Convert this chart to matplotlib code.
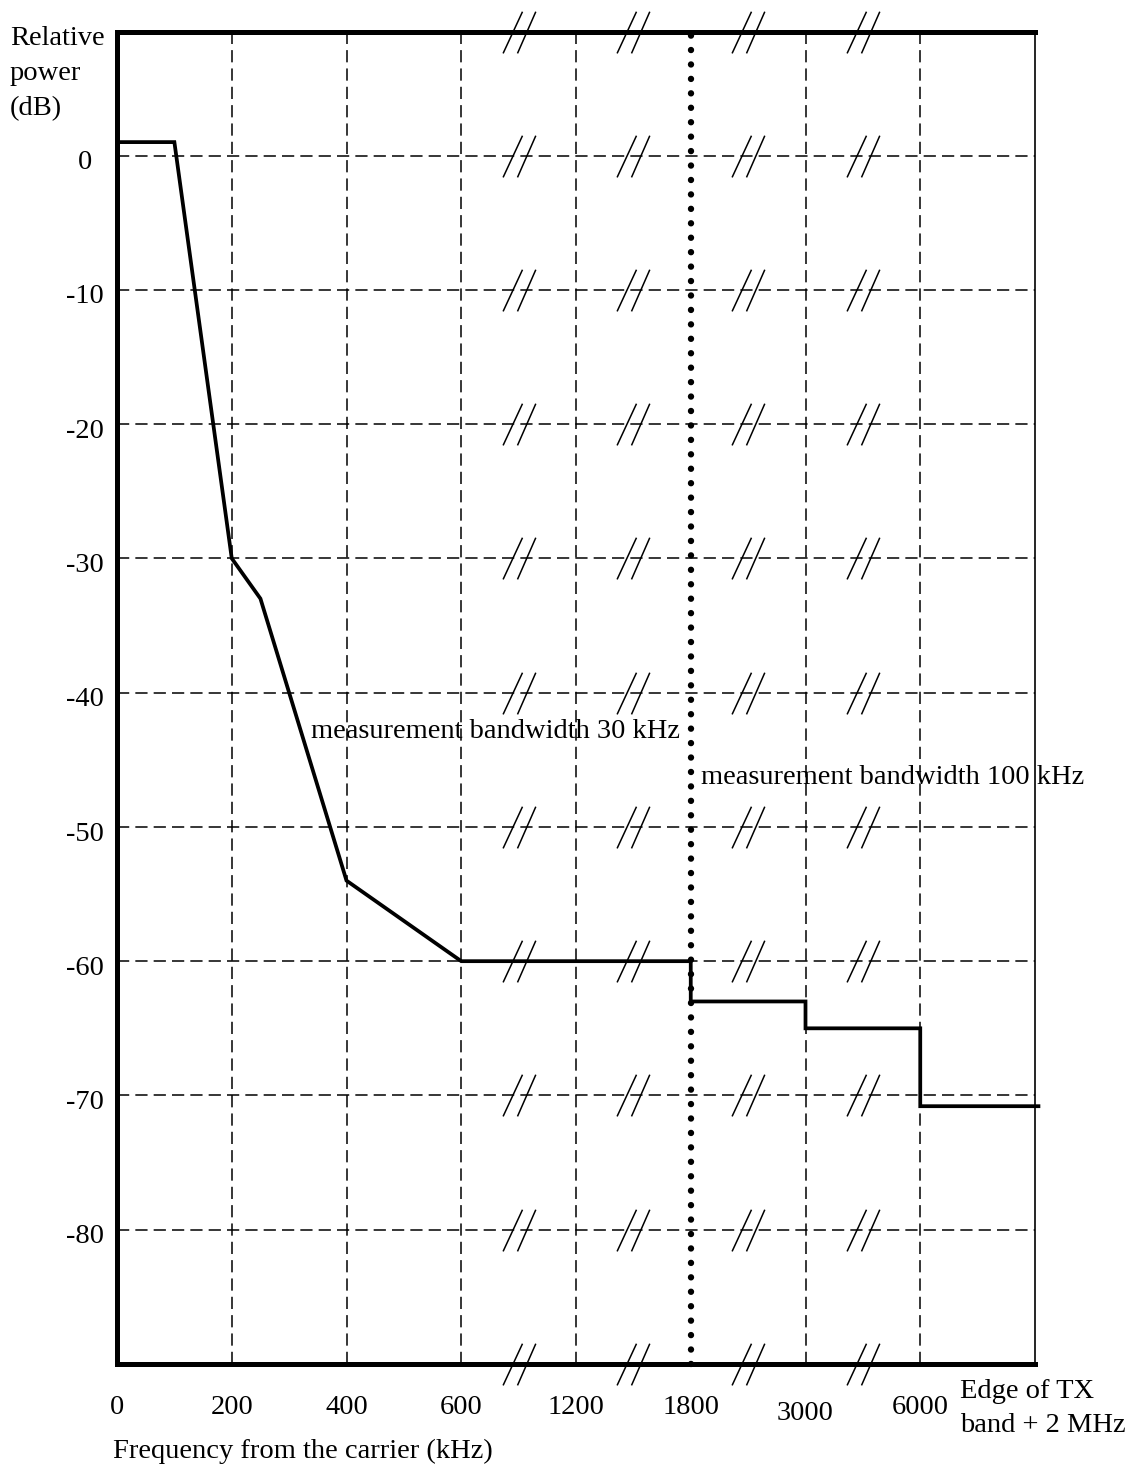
import matplotlib
matplotlib.use("Agg")
import matplotlib.pyplot as plt
from matplotlib.path import Path
from matplotlib import transforms
import numpy as np

plt.rcParams['font.family'] = ['Liberation Serif', 'DejaVu Serif']

# ---- data ----
x_tick_labels = ['0', '200', '400', '600', '1200', '1800', '3000', '6000']
y_ticks = [0, -10, -20, -30, -40, -50, -60, -70, -80]
# mask positions on the category axis (index of tick; 0.5 = 100 kHz, 1.25 = 250 kHz)
mask_x = [0, 0.5, 1, 1.25, 2, 3, 5, 5, 6, 6, 7, 7, 8.03]
mask_db = [1, 1, -30, -33, -54, -60, -60, -63, -63, -65, -65, -70.8, -70.8]
break_x = [3.5, 4.5, 5.5, 6.5]
bw_boundary_x = 5
y_top, y_bottom = 9.2, -90
x_right = 8

FS = 20.5

fig = plt.figure(figsize=(11.38, 14.7), dpi=100)
W, H = 1138, 1470
ax = fig.add_axes([117 / W, (H - 1364) / H, (1035 - 117) / W, (1364 - 32) / H])
ax.set_xlim(0, x_right)
ax.set_ylim(y_bottom, y_top)
ax.set_xticks([])
ax.set_yticks([])

for s in ['left', 'top', 'bottom']:
    ax.spines[s].set_linewidth(3.6)
    ax.spines[s].set_capstyle('projecting')
ax.spines['right'].set_linewidth(1.2)

dash = (0, (8, 4))
# horizontal grid
for v in y_ticks:
    ax.axhline(v, color='black', lw=1.1, linestyle=dash, zorder=1)
# vertical grid
for i in range(1, len(x_tick_labels)):
    if i == bw_boundary_x:
        continue
    ax.axvline(i, color='black', lw=1.1, linestyle=dash, zorder=1)

# dotted boundary
ax.plot([bw_boundary_x, bw_boundary_x], [y_bottom, y_top], color='black', lw=4.6,
        linestyle=(0, (0.01, 2.25)), dash_capstyle='round', zorder=3, clip_on=False)

# mask line
ax.plot(mask_x, mask_db, color='black', lw=2.7, zorder=4, clip_on=False,
        solid_joinstyle='miter')

# break marks "//"
verts = [(-16.4, -20.9), (3.0, 20.8), (-2.0, -20.9), (16.3, 20.8)]
codes = [Path.MOVETO, Path.LINETO, Path.MOVETO, Path.LINETO]
brk = Path(verts, codes)
levels = [y_top] + y_ticks + [y_bottom]
for bx in break_x:
    ax.plot([bx] * len(levels), levels, linestyle='none', marker=brk,
            markersize=41.8 * 0.72, markeredgewidth=1.1, markeredgecolor='black',
            markerfacecolor='none', zorder=5, clip_on=False)

# y tick labels
ytr = transforms.offset_copy(ax.get_yaxis_transform(), fig=fig, x=0, y=-13.6, units='dots')
for v in y_ticks:
    ax.text((85 - 117) / 918, v, str(v), transform=ytr, ha='center', va='baseline', fontsize=FS)

# x tick labels
xtr = ax.get_xaxis_transform()
for i, lab in enumerate(x_tick_labels):
    yb = 1420 if lab == '3000' else 1414
    ax.text(i, -(yb - 1364) / 1332, lab, transform=xtr, ha='center', va='baseline', fontsize=FS)

# texts
ax.text(1.69, -42.9, 'measurement bandwidth 30 kHz', fontsize=FS, va='center', ha='left', zorder=6)
ax.text(5.09, -46.3, 'measurement bandwidth 100 kHz', fontsize=FS, va='center', ha='left', zorder=6)

for txt, yb in [('Relative', 45), ('power', 80), ('(dB)', 115)]:
    fig.text(10 / W, (H - yb) / H, txt, fontsize=FS, ha='left', va='baseline')
fig.text(113 / W, (H - 1458) / H, 'Frequency from the carrier (kHz)', fontsize=FS, ha='left', va='baseline')
fig.text(960 / W, (H - 1398) / H, 'Edge of TX', fontsize=FS, ha='left', va='baseline')
fig.text(960 / W, (H - 1432) / H, 'band + 2 MHz', fontsize=FS, ha='left', va='baseline')

fig.savefig('out.png', dpi=100)
